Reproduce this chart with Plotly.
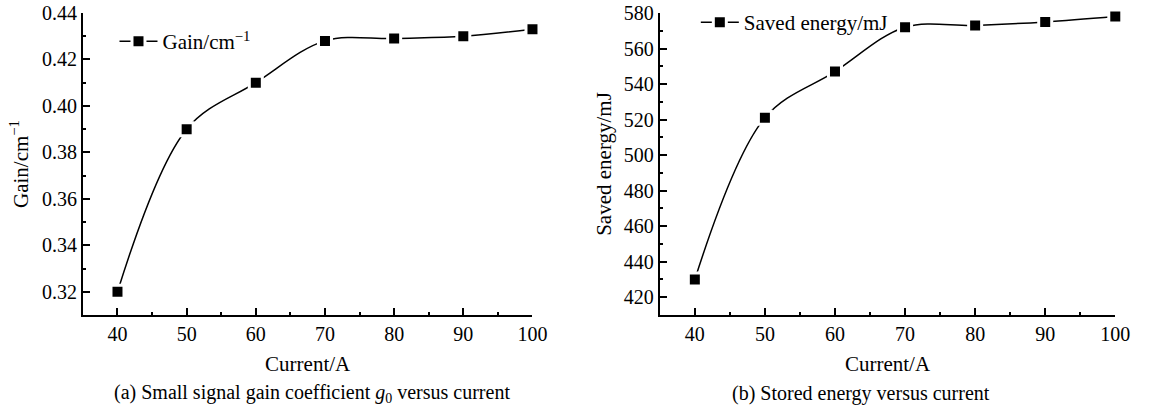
import plotly.graph_objects as go

current = [40, 50, 60, 70, 80, 90, 100]
gain = [0.320, 0.390, 0.410, 0.428, 0.429, 0.430, 0.433]
energy = [430, 521, 547, 572, 573, 575, 578]

FONT = "Liberation Serif, Times New Roman, serif"

fig = go.Figure()

marker = dict(symbol="square", size=13, color="black", line=dict(color="white", width=3))

fig.add_trace(go.Scatter(x=current, y=gain, mode="lines+markers", name="Gain/cm<sup>−1</sup>",
                         line=dict(color="black", width=1.5, shape="spline", smoothing=1.0),
                         marker=marker, cliponaxis=False, showlegend=True,
                         xaxis="x", yaxis="y", legend="legend"))
fig.add_trace(go.Scatter(x=current, y=energy, mode="lines+markers", name="Saved energy/mJ",
                         line=dict(color="black", width=1.5, shape="spline", smoothing=1.0),
                         marker=marker, cliponaxis=False, showlegend=True,
                         xaxis="x2", yaxis="y2", legend="legend2"))

W, H = 1152, 409
PH = 409 - 13 - 94
axcommon = dict(showline=True, linecolor="black", linewidth=2, ticks="inside", ticklen=7,
                tickwidth=2, tickcolor="black", showgrid=False, zeroline=False, mirror=False,
                tickfont=dict(family=FONT, size=20, color="black"))

xcommon = dict(axcommon, range=[35, 100], dtick=10, tick0=40,
               minor=dict(ticks="inside", ticklen=3, tickwidth=2, dtick=5, tick0=40, tickcolor="black", showgrid=False),
               title=dict(text="Current/A", font=dict(family=FONT, size=21, color="black"), standoff=12))

fig.update_layout(
    width=W, height=H,
    showlegend=True,
    margin=dict(l=0, r=0, t=13, b=94),
    paper_bgcolor="white", plot_bgcolor="white",
    font=dict(family=FONT, size=20, color="black"),
    xaxis=dict(xcommon, domain=[84 / W, 539.5 / W], anchor="y"),
    xaxis2=dict(xcommon, domain=[668.5 / W, 1130 / W], anchor="y2"),
    yaxis=dict(axcommon, range=[0.31, 0.44], dtick=0.02, tick0=0.32, tickformat=".2f",
               minor=dict(ticks="inside", ticklen=3, tickwidth=2, dtick=0.01, tick0=0.32, tickcolor="black", showgrid=False),
               domain=[0, 1], anchor="x",
               title=dict(text="Gain/cm<sup>−1</sup>", font=dict(family=FONT, size=21, color="black"), standoff=8)),
    yaxis2=dict(axcommon, range=[410, 580], dtick=20, tick0=420,
                minor=dict(ticks="inside", ticklen=3, tickwidth=2, dtick=10, tick0=420, tickcolor="black", showgrid=False),
                domain=[0, 1], anchor="x2",
                title=dict(text="Saved energy/mJ", font=dict(family=FONT, size=21, color="black"), standoff=6)),
    legend=dict(x=116 / W, y=1 - 8 / PH, xanchor="left", yanchor="top", visible=True,
                bgcolor="rgba(0,0,0,0)", font=dict(family=FONT, size=21, color="black"), itemwidth=38),
    legend2=dict(x=705 / W, y=1 + 11 / PH, xanchor="left", yanchor="top", visible=True,
                 bgcolor="rgba(0,0,0,0)", font=dict(family=FONT, size=21, color="black"), itemwidth=38),
    annotations=[
        dict(text="(a) Small signal gain coefficient <i>g</i><sub>0</sub> versus current", x=316 / W, y=-0.26,
             xref="paper", yref="paper", showarrow=False, xanchor="center", yanchor="middle",
             font=dict(family=FONT, size=20, color="black")),
        dict(text="(b) Stored energy versus current", x=872 / W, y=-0.26,
             xref="paper", yref="paper", showarrow=False, xanchor="center", yanchor="middle",
             font=dict(family=FONT, size=20, color="black")),
    ],
)

fig.write_html("out.html")
